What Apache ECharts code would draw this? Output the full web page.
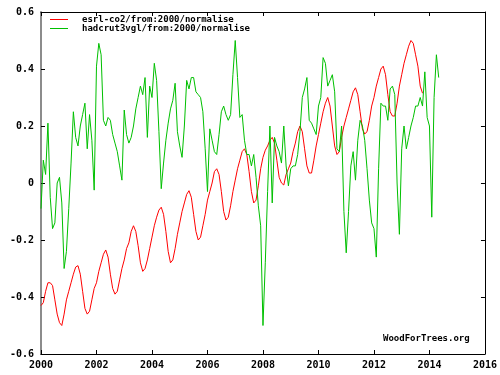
<!DOCTYPE html>
<html>
<head>
<meta charset="utf-8">
<script src="https://cdn.jsdelivr.net/npm/echarts@6/dist/echarts.min.js"></script>
<style>html,body{margin:0;padding:0;background:#fff}#c{width:500px;height:375px}</style>
</head>
<body>
<div id="c"></div>
<script>
// monthly series starting January 2000
var startYear = 2000;
var seriesNames = ['esrl-co2/from:2000/normalise', 'hadcrut3vgl/from:2000/normalise'];
var co2Values = [
  -0.43,-0.42,-0.38,-0.35,-0.35,-0.36,-0.41,-0.46,-0.49,-0.50,-0.46,-0.41,
  -0.38,-0.35,-0.32,-0.295,-0.29,-0.32,-0.38,-0.44,-0.46,-0.45,-0.41,-0.37,
  -0.35,-0.31,-0.28,-0.25,-0.235,-0.26,-0.32,-0.37,-0.39,-0.38,-0.34,-0.30,
  -0.27,-0.23,-0.21,-0.17,-0.15,-0.17,-0.22,-0.28,-0.31,-0.30,-0.27,-0.23,
  -0.19,-0.15,-0.12,-0.095,-0.085,-0.11,-0.17,-0.24,-0.28,-0.27,-0.23,-0.18,
  -0.14,-0.10,-0.07,-0.04,-0.027,-0.05,-0.11,-0.17,-0.20,-0.19,-0.15,-0.11,
  -0.06,-0.03,0.00,0.04,0.05,0.03,-0.03,-0.10,-0.13,-0.12,-0.08,-0.03,
  0.01,0.05,0.08,0.11,0.12,0.10,0.04,-0.03,-0.07,-0.06,-0.01,0.05,
  0.09,0.115,0.13,0.15,0.16,0.14,0.08,0.02,0.00,-0.007,0.03,0.05,
  0.07,0.11,0.14,0.18,0.20,0.18,0.12,0.06,0.035,0.035,0.08,0.13,
  0.17,0.21,0.25,0.28,0.30,0.27,0.20,0.13,0.10,0.11,0.16,0.20,
  0.23,0.26,0.29,0.32,0.334,0.31,0.25,0.19,0.172,0.18,0.22,0.27,
  0.30,0.34,0.37,0.40,0.41,0.38,0.31,0.25,0.235,0.235,0.28,0.34,
  0.38,0.42,0.45,0.48,0.50,0.49,0.45,0.41,0.34,0.315
];
var hadValues = [
  -0.09,0.08,0.03,0.21,-0.05,-0.16,-0.14,0.00,0.02,-0.07,-0.30,-0.24,
  -0.09,0.07,0.25,0.16,0.13,0.20,0.24,0.28,0.12,0.24,0.15,-0.025,
  0.41,0.49,0.45,0.22,0.20,0.23,0.22,0.17,0.14,0.11,0.06,0.01,
  0.256,0.17,0.14,0.16,0.20,0.26,0.30,0.34,0.31,0.37,0.16,0.34,
  0.30,0.42,0.36,0.18,-0.02,0.07,0.15,0.21,0.26,0.29,0.35,0.18,
  0.13,0.09,0.20,0.36,0.33,0.37,0.37,0.32,0.31,0.30,0.25,0.12,
  -0.03,0.19,0.15,0.11,0.10,0.17,0.25,0.27,0.24,0.22,0.24,0.38,
  0.50,0.37,0.23,0.24,0.15,0.10,0.10,0.06,0.10,0.02,-0.08,-0.15,
  -0.50,-0.28,-0.03,0.20,-0.07,0.16,0.13,0.11,0.07,0.20,0.06,-0.01,
  0.05,0.06,0.06,0.10,0.18,0.30,0.33,0.37,0.22,0.21,0.19,0.17,
  0.27,0.30,0.44,0.42,0.34,0.36,0.38,0.32,0.12,0.11,0.20,-0.10,
  -0.245,-0.10,0.06,0.11,0.01,0.15,0.22,0.20,0.15,0.05,-0.06,-0.14,
  -0.16,-0.26,0.05,0.28,0.27,0.27,0.22,0.33,0.34,0.31,0.00,-0.18,
  0.12,0.20,0.12,0.16,0.20,0.23,0.27,0.27,0.30,0.27,0.39,0.23,
  0.20,-0.12,0.30,0.45,0.37
];
var xTicks = ['2000','2002','2004','2006','2008','2010','2012','2014','2016'];
var yTicks = ['-0.6','-0.4','-0.2','0','0.2','0.4','0.6'];
var watermark = 'WoodForTrees.org';

function toPairs(vals) {
  return vals.map(function (v, i) { return [startYear + i / 12, v]; });
}

var monoFont = '"DejaVu Sans Mono", "Liberation Mono", monospace';
var chart = echarts.init(document.getElementById('c'), null, {renderer: 'canvas'});
chart.setOption({
  animation: false,
  backgroundColor: '#ffffff',
  grid: {left: 41, right: 15, top: 12, bottom: 21, containLabel: false},
  legend: {
    left: 45, top: 10, orient: 'vertical', itemGap: 0,
    icon: 'rect', itemWidth: 18, itemHeight: 1,
    data: seriesNames,
    textStyle: {fontFamily: monoFont, fontSize: 9, fontWeight: 'bold', color: '#000', padding: [0, 0, 0, 9]}
  },
  xAxis: [{
    type: 'value', min: 2000, max: 2016, interval: 2, position: 'bottom',
    axisLine: {onZero: false, lineStyle: {color: '#000', width: 1}},
    axisTick: {inside: true, length: 4, lineStyle: {color: '#000'}},
    axisLabel: {margin: 6, fontFamily: monoFont, fontSize: 10, fontWeight: 'bold', color: '#000',
      formatter: function (v) { var s = String(Math.round(v)); return xTicks.indexOf(s) >= 0 ? s : ''; }},
    splitLine: {show: false}
  }, {
    type: 'value', min: 2000, max: 2016, interval: 2, position: 'top',
    axisLine: {onZero: false, lineStyle: {color: '#000', width: 1}},
    axisTick: {inside: true, length: 4, lineStyle: {color: '#000'}},
    axisLabel: {show: false}, splitLine: {show: false}
  }],
  yAxis: [{
    type: 'value', min: -0.6, max: 0.6, interval: 0.2, position: 'left',
    axisLine: {onZero: false, show: true, lineStyle: {color: '#8c8c8c', width: 2}},
    axisTick: {show: true, inside: true, length: 4, lineStyle: {color: '#000'}},
    axisLabel: {margin: 7, fontFamily: monoFont, fontSize: 10, fontWeight: 'bold', color: '#000',
      formatter: function (v) { var s = String(Math.round(v * 10) / 10); return yTicks.indexOf(s) >= 0 ? s : ''; }},
    splitLine: {show: false}
  }, {
    type: 'value', min: -0.6, max: 0.6, interval: 0.2, position: 'right',
    axisLine: {onZero: false, show: true, lineStyle: {color: '#000', width: 1}},
    axisTick: {show: true, inside: true, length: 4, lineStyle: {color: '#000'}},
    axisLabel: {show: false}, splitLine: {show: false}
  }],
  graphic: [{
    type: 'text', left: 383, top: 334,
    style: {text: watermark, font: 'bold 9px ' + monoFont, fill: '#000'}
  }],
  series: [{
    name: seriesNames[0], type: 'line', data: toPairs(co2Values),
    showSymbol: false, symbol: 'none', color: '#ff0000',
    lineStyle: {color: '#ff0000', width: 1}
  }, {
    name: seriesNames[1], type: 'line', data: toPairs(hadValues),
    showSymbol: false, symbol: 'none', color: '#00c000',
    lineStyle: {color: '#00c000', width: 1}
  }]
});
</script>
</body>
</html>
